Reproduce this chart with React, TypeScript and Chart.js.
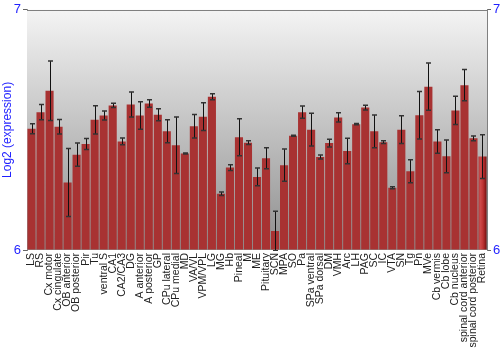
import { useEffect, useRef } from 'react';
import { Chart, registerables } from 'chart.js';

Chart.register(...registerables);

const regions = [
  'LS', 'RS', 'Cx motor', 'Cx cingulate', 'OB anterior', 'OB posterior', 'Pir', 'Tu',
  'ventral S', 'CA1', 'CA2/CA3', 'DG', 'A anterior', 'A posterior', 'GP', 'CPu lateral',
  'CPu medial', 'MD', 'VA/VL', 'VPM/VPL', 'LG', 'MG', 'Hb', 'Pineal', 'M', 'ME',
  'Pituitary', 'SCN', 'MPA', 'SO', 'Pa', 'SPa ventral', 'SPa dorsal', 'DM', 'VMH', 'Arc',
  'LH', 'PAG', 'SC', 'IC', 'VTA', 'SN', 'Tg', 'Pn', 'MVe', 'Cb vermis', 'Cb lobe',
  'Cb nucleus', 'spinal cord anterior', 'spinal cord posterior', 'Retina',
];

const expression = [
  6.505, 6.574, 6.663, 6.513, 6.281, 6.397, 6.441, 6.542,
  6.560, 6.602, 6.452, 6.606, 6.560, 6.610, 6.563, 6.494,
  6.436, 6.402, 6.515, 6.555, 6.638, 6.234, 6.343, 6.469, 6.447, 6.304,
  6.382, 6.079, 6.353, 6.476, 6.574, 6.501, 6.387, 6.445, 6.552, 6.412,
  6.524, 6.593, 6.494, 6.449, 6.259, 6.501, 6.328, 6.561, 6.680, 6.452, 6.390,
  6.581, 6.686, 6.465, 6.389,
];

const errors = [
  0.021, 0.032, 0.124, 0.030, 0.142, 0.048, 0.023, 0.059,
  0.019, 0.009, 0.014, 0.052, 0.057, 0.016, 0.025, 0.048,
  0.118, 0.002, 0.049, 0.058, 0.012, 0.0075, 0.012, 0.077, 0.0075, 0.037,
  0.044, 0.082, 0.067, 0.002, 0.025, 0.068, 0.008, 0.016, 0.019, 0.053,
  0.003, 0.010, 0.068, 0.006, 0.004, 0.058, 0.048, 0.099, 0.098, 0.049, 0.068,
  0.059, 0.065, 0.010, 0.091,
];

const yMin = 6;
const yMax = 7;
const yAxisTitle = 'Log2 (expression)';

const BLUE = '#1f1fff';
const FONT = "'Liberation Sans', Arial, sans-serif";

const backgroundPlugin = {
  id: 'plotBackground',
  beforeDatasetsDraw(chart: any) {
    const { ctx, chartArea: a } = chart;
    ctx.save();
    const g = ctx.createLinearGradient(0, a.top, 0, a.bottom);
    g.addColorStop(0, '#f4f4f4');
    g.addColorStop(1, '#8e8e8e');
    ctx.fillStyle = g;
    ctx.fillRect(a.left, a.top, a.right - a.left, a.bottom - a.top);
    ctx.strokeStyle = '#808080';
    ctx.lineWidth = 1;
    ctx.beginPath();
    ctx.moveTo(a.left, Math.round(a.top) + 0.5);
    ctx.lineTo(a.right, Math.round(a.top) + 0.5);
    ctx.stroke();
    ctx.restore();

    // horizontal shading for each bar, based on its laid-out position
    const meta = chart.getDatasetMeta(0);
    meta.data.forEach((bar: any) => {
      const half = bar.width / 2;
      if (!Number.isFinite(bar.x) || !Number.isFinite(half)) return;
      const bg = ctx.createLinearGradient(bar.x - half, 0, bar.x + half, 0);
      bg.addColorStop(0, '#a83232');
      bg.addColorStop(0.2, '#cf4c4c');
      bg.addColorStop(0.55, '#bd3434');
      bg.addColorStop(0.8, '#9a2020');
      bg.addColorStop(1, '#6a0f0f');
      bar.options.backgroundColor = bg;
    });
  },
};

const errorBarPlugin = {
  id: 'errorBars',
  afterDatasetsDraw(chart: any) {
    const { ctx, chartArea: a } = chart;
    const meta = chart.getDatasetMeta(0);
    const y = chart.scales.y;
    ctx.save();
    ctx.beginPath();
    ctx.rect(a.left, a.top, a.right - a.left, a.bottom - a.top + 1);
    ctx.clip();
    meta.data.forEach((bar: any, i: number) => {
      const v = expression[i];
      const e = errors[i];
      const x = Math.round(bar.x) + 0.5;
      const yt = y.getPixelForValue(v + e);
      const yb = y.getPixelForValue(v - e);
      ctx.strokeStyle = '#111111';
      ctx.lineWidth = 1;
      ctx.beginPath();
      ctx.moveTo(x, yt);
      ctx.lineTo(x, yb);
      ctx.stroke();
      ctx.strokeStyle = '#333333';
      ctx.lineWidth = 1.5;
      ctx.beginPath();
      ctx.moveTo(x - 2.5, yt);
      ctx.lineTo(x + 2.5, yt);
      ctx.moveTo(x - 2.5, yb);
      ctx.lineTo(x + 2.5, yb);
      ctx.stroke();
    });
    ctx.restore();
  },
};

export default function App() {
  const canvasRef = useRef<HTMLCanvasElement | null>(null);

  useEffect(() => {
    const canvas = canvasRef.current;
    if (!canvas) return;

    const chart = new Chart(canvas, {
      type: 'bar',
      data: {
        labels: regions,
        datasets: [
          {
            data: expression,
            backgroundColor: '#b83030',
            borderWidth: 0,
            categoryPercentage: 1,
            barPercentage: 0.9,
            base: yMin,
          } as any,
        ],
      },
      options: {
        animation: false,
        responsive: true,
        maintainAspectRatio: false,
        layout: { padding: { top: 9, left: 0, right: 0, bottom: 0 } },
        plugins: {
          legend: { display: false },
          tooltip: { enabled: false },
        },
        scales: {
          x: {
            grid: { display: false, drawTicks: false },
            border: { display: false },
            ticks: {
              autoSkip: false,
              maxRotation: 90,
              minRotation: 90,
              padding: 3,
              color: '#222222',
              font: { family: FONT, size: 10.5 },
            },
            afterFit: (s: any) => {
              s.height = 100;
            },
          },
          y: {
            position: 'left',
            min: yMin,
            max: yMax,
            ticks: {
              stepSize: 1,
              padding: 2,
              color: BLUE,
              font: { family: FONT, size: 13 },
            },
            grid: { drawOnChartArea: false, tickLength: 4, color: '#666666' },
            border: { color: '#808080' },
            title: {
              display: true,
              text: yAxisTitle,
              color: BLUE,
              padding: 0,
              font: { family: FONT, size: 12 },
            },
            afterFit: (s: any) => {
              s.width = 27;
            },
          },
          y2: {
            position: 'right',
            min: yMin,
            max: yMax,
            ticks: {
              stepSize: 1,
              padding: 2,
              color: BLUE,
              font: { family: FONT, size: 13 },
            },
            grid: { drawOnChartArea: false, tickLength: 4, color: '#666666' },
            border: { color: '#808080' },
            afterFit: (s: any) => {
              s.width = 13;
            },
          },
        },
      } as any,
      plugins: [backgroundPlugin, errorBarPlugin],
    });

    return () => chart.destroy();
  }, []);

  return (
    <div style={{ position: 'fixed', left: 0, top: 0, width: 500, height: 350, background: '#ffffff' }}>
      <canvas ref={canvasRef} />
    </div>
  );
}
